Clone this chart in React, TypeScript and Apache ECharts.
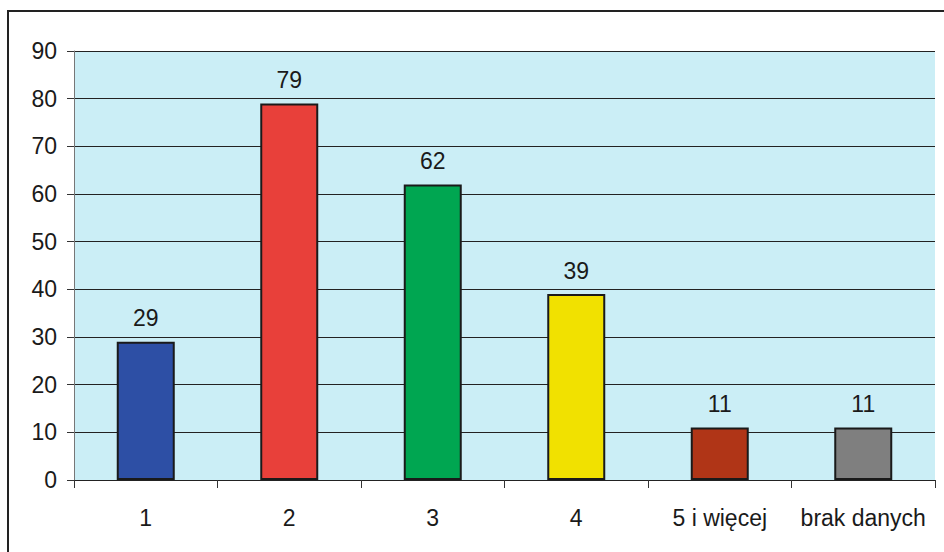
import React, { useEffect, useRef } from "react";
import * as echarts from "echarts";

const categories = ["1", "2", "3", "4", "5 i więcej", "brak danych"];
const values = [29, 79, 62, 39, 11, 11];
const barColors = ["#2D4FA5", "#E8403A", "#00A651", "#F1E100", "#B03517", "#7F7F7F"];
const yTicks = { min: 0, max: 90, interval: 10 };

export default function App() {
  const ref = useRef<HTMLDivElement>(null);

  useEffect(() => {
    if (!ref.current) return;
    const chart = echarts.init(ref.current, null, { renderer: "svg" });
    const font = "Liberation Sans, Arial, sans-serif";
    chart.setOption({
      animation: false,
      backgroundColor: "#ffffff",
      graphic: [
        {
          type: "rect",
          shape: { x: 8, y: 11, width: 980, height: 600 },
          style: { fill: "none", stroke: "#222", lineWidth: 2 },
          silent: true,
          z: -1,
        },
      ],
      grid: {
        left: 74,
        top: 51,
        right: 9,
        bottom: 72,
        show: true,
        backgroundColor: "#CBEEF6",
        borderWidth: 0,
      },
      xAxis: {
        type: "category",
        data: categories,
        boundaryGap: true,
        axisLine: { show: true, lineStyle: { color: "#222", width: 1 } },
        axisTick: { show: true, interval: 0, length: 8, lineStyle: { color: "#333" } },
        axisLabel: {
          interval: 0,
          hideOverlap: false,
          color: "#1a1a1a",
          fontSize: 23,
          fontFamily: font,
          margin: 26,
        },
      },
      yAxis: {
        type: "value",
        min: yTicks.min,
        max: yTicks.max,
        interval: yTicks.interval,
        axisLine: { show: true, lineStyle: { color: "#777", width: 1 } },
        axisTick: { show: true, length: 7, lineStyle: { color: "#333" } },
        splitLine: { show: true, lineStyle: { color: "#222", width: 1 } },
        axisLabel: {
          color: "#1a1a1a",
          fontSize: 23,
          fontFamily: font,
          margin: 17,
        },
      },
      series: [
        {
          type: "bar",
          barWidth: 58,
          data: values.map((v, i) => ({
            value: v,
            itemStyle: { color: barColors[i] },
          })),
          itemStyle: { borderColor: "#1a1a1a", borderWidth: 2 },
          label: {
            show: true,
            position: "top",
            distance: 12,
            color: "#1a1a1a",
            fontSize: 23,
            fontFamily: font,
          },
        },
      ],
    });
    return () => chart.dispose();
  }, []);

  return (
    <div
      ref={ref}
      style={{ position: "fixed", left: 0, top: 0, width: 944, height: 552 }}
    />
  );
}
